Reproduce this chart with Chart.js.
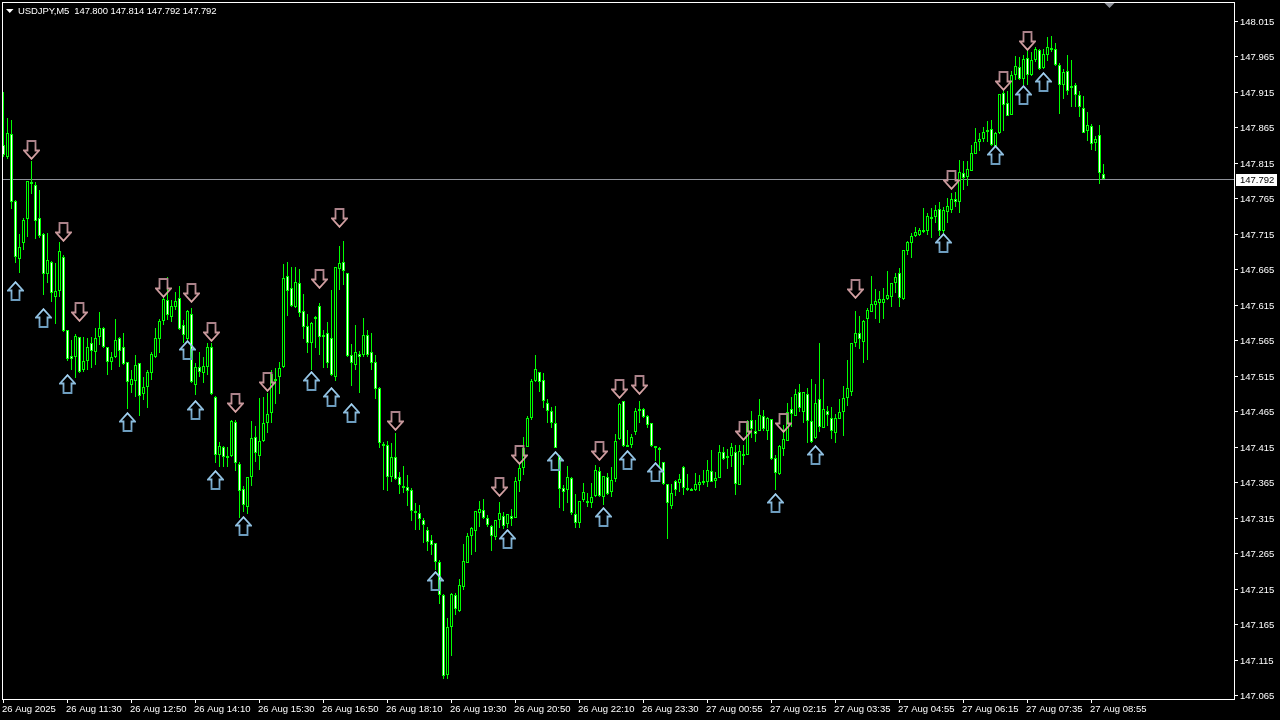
<!DOCTYPE html>
<html>
<head>
<meta charset="utf-8">
<title>USDJPY,M5</title>
<script src="https://cdn.jsdelivr.net/npm/chart.js@4/dist/chart.umd.min.js"></script>
<style>
html,body{margin:0;padding:0;background:#000;}
canvas{display:block;}
</style>
</head>
<body>
<canvas id="candleChart" width="1280" height="720"></canvas>
<script>
// USDJPY M5 prices, one entry per bar

const opens=[
147.840,147.823,147.856,147.761,147.680,147.702,147.736,147.788,147.784,147.737,
147.715,147.658,147.675,147.626,147.634,147.682,147.580,147.543,147.541,147.570,
147.523,147.536,147.561,147.549,147.570,147.582,147.556,147.534,147.541,147.568,
147.556,147.534,147.502,147.508,147.533,147.489,147.499,147.519,147.541,147.567,
147.592,147.622,147.598,147.612,147.625,147.587,147.567,147.602,147.502,147.527,
147.519,147.527,147.556,147.485,147.403,147.415,147.402,147.402,147.450,147.391,
147.355,147.330,147.372,147.429,147.402,147.423,147.448,147.463,147.510,147.513,
147.527,147.656,147.639,147.612,147.646,147.606,147.585,147.561,147.595,147.613,
147.572,147.575,147.568,147.513,147.665,147.675,147.660,147.544,147.530,147.546,
147.544,147.572,147.549,147.534,147.498,147.419,147.417,147.372,147.400,147.372,
147.360,147.358,147.354,147.325,147.322,147.312,147.298,147.284,147.279,147.253,
147.206,147.093,147.161,147.206,147.183,147.217,147.251,147.289,147.296,147.322,
147.326,147.315,147.303,147.288,147.312,147.317,147.306,147.317,147.315,147.367,
147.385,147.415,147.456,147.508,147.520,147.509,147.477,147.465,147.448,147.402,
147.357,147.354,147.371,147.320,147.308,147.340,147.338,147.336,147.345,147.381,
147.344,147.372,147.351,147.370,147.426,147.479,147.417,147.417,147.436,147.465,
147.468,147.458,147.448,147.416,147.413,147.393,147.362,147.331,147.367,147.364,
147.386,147.357,147.355,147.354,147.361,147.367,147.365,147.381,147.367,147.371,
147.408,147.402,147.402,147.408,147.361,147.405,147.403,147.453,147.437,147.437,
147.458,147.437,147.454,147.399,147.377,147.412,147.423,147.468,147.458,147.492,
147.464,147.489,147.451,147.427,147.482,147.441,147.465,147.456,147.434,147.454,
147.464,147.484,147.492,147.561,147.575,147.563,147.595,147.605,147.615,147.618,
147.618,147.623,147.626,147.646,147.660,147.623,147.691,147.702,147.712,147.713,
147.720,147.719,147.739,147.739,147.750,147.719,147.746,147.749,147.764,147.760,
147.801,147.795,147.804,147.828,147.844,147.849,147.861,147.863,147.839,147.857,
147.914,147.899,147.883,147.939,147.950,147.933,147.963,147.939,147.960,147.974,
147.949,147.967,147.977,147.976,147.953,147.925,147.945,147.923,147.925,147.911,
147.892,147.860,147.867,147.843,147.854,147.800];

const highs=[
147.915,147.878,147.875,147.763,147.715,147.737,147.790,147.818,147.788,147.777,
147.716,147.716,147.677,147.674,147.704,147.685,147.580,147.565,147.574,147.570,
147.570,147.568,147.570,147.582,147.605,147.584,147.556,147.549,147.595,147.570,
147.575,147.534,147.523,147.544,147.533,147.513,147.523,147.549,147.582,147.595,
147.626,147.654,147.622,147.633,147.642,147.594,147.608,147.611,147.533,147.549,
147.541,147.561,147.561,147.487,147.422,147.416,147.415,147.453,147.453,147.393,
147.360,147.372,147.451,147.444,147.484,147.485,147.491,147.523,147.526,147.534,
147.673,147.675,147.668,147.668,147.665,147.630,147.602,147.591,147.599,147.618,
147.580,147.591,147.636,147.668,147.698,147.705,147.660,147.560,147.587,147.550,
147.596,147.580,147.575,147.544,147.499,147.422,147.423,147.420,147.434,147.379,
147.388,147.375,147.357,147.336,147.333,147.315,147.302,147.291,147.279,147.255,
147.207,147.174,147.209,147.209,147.229,147.278,147.293,147.302,147.324,147.338,
147.341,147.319,147.305,147.312,147.337,147.323,147.320,147.327,147.372,147.392,
147.429,147.458,147.510,147.544,147.520,147.519,147.482,147.471,147.472,147.403,
147.361,147.388,147.372,147.348,147.338,147.364,147.350,147.364,147.389,147.386,
147.374,147.378,147.386,147.433,147.477,147.479,147.439,147.433,147.470,147.479,
147.470,147.460,147.448,147.416,147.415,147.394,147.362,147.362,147.368,147.377,
147.388,147.377,147.357,147.378,147.375,147.382,147.396,147.410,147.379,147.417,
147.415,147.412,147.420,147.417,147.417,147.417,147.453,147.465,147.453,147.482,
147.467,147.457,147.454,147.403,147.417,147.446,147.477,147.485,147.496,147.503,
147.492,147.498,147.510,147.503,147.561,147.510,147.472,147.471,147.461,147.482,
147.501,147.537,147.561,147.606,147.599,147.594,147.611,147.656,147.637,147.634,
147.639,147.663,147.646,147.660,147.667,147.692,147.705,147.716,147.725,147.723,
147.751,147.744,147.751,147.756,147.760,147.753,147.765,147.773,147.774,147.819,
147.818,147.818,147.840,147.864,147.857,147.866,147.874,147.875,147.858,147.912,
147.918,147.916,147.945,147.966,147.964,147.967,147.974,147.971,147.978,147.976,
147.976,147.992,147.994,147.984,147.956,147.947,147.967,147.960,147.928,147.916,
147.909,147.887,147.870,147.853,147.868,147.814];

const lows=[
147.823,147.821,147.750,147.674,147.660,147.692,147.711,147.771,147.708,147.709,
147.629,147.646,147.619,147.588,147.626,147.577,147.536,147.523,147.512,147.519,
147.520,147.523,147.526,147.530,147.558,147.554,147.516,147.523,147.540,147.527,
147.530,147.468,147.491,147.485,147.458,147.481,147.470,147.509,147.540,147.547,
147.587,147.594,147.591,147.608,147.580,147.561,147.565,147.505,147.488,147.513,
147.505,147.516,147.488,147.392,147.386,147.386,147.386,147.400,147.381,147.315,
147.323,147.320,147.360,147.393,147.382,147.422,147.434,147.448,147.475,147.489,
147.526,147.599,147.612,147.611,147.598,147.567,147.547,147.523,147.554,147.544,
147.526,147.526,147.515,147.508,147.636,147.643,147.541,147.501,147.523,147.491,
147.541,147.541,147.523,147.482,147.413,147.354,147.353,147.365,147.368,147.348,
147.350,147.331,147.310,147.298,147.298,147.279,147.268,147.262,147.241,147.193,
147.088,147.088,147.120,147.178,147.182,147.213,147.251,147.262,147.267,147.302,
147.313,147.302,147.268,147.284,147.300,147.299,147.300,147.303,147.315,147.351,
147.375,147.415,147.453,147.506,147.492,147.470,147.448,147.441,147.413,147.329,
147.324,147.336,147.319,147.300,147.300,147.337,147.330,147.329,147.344,147.344,
147.333,147.347,147.344,147.365,147.424,147.415,147.414,147.413,147.432,147.448,
147.456,147.441,147.415,147.395,147.386,147.361,147.285,147.327,147.345,147.351,
147.347,147.353,147.352,147.353,147.353,147.361,147.358,147.365,147.357,147.371,
147.396,147.384,147.386,147.347,147.361,147.389,147.403,147.427,147.422,147.437,
147.437,147.424,147.396,147.354,147.375,147.402,147.423,147.443,147.458,147.464,
147.448,147.420,147.420,147.426,147.436,147.441,147.444,147.426,147.420,147.454,
147.430,147.472,147.487,147.556,147.553,147.533,147.537,147.605,147.595,147.589,
147.595,147.622,147.612,147.632,147.612,147.622,147.685,147.681,147.711,147.712,
147.716,147.713,147.709,147.730,147.712,147.716,147.730,147.744,147.753,147.744,
147.777,147.782,147.804,147.828,147.832,147.844,147.844,147.839,147.839,147.856,
147.860,147.881,147.883,147.932,147.932,147.925,147.925,147.938,147.957,147.946,
147.947,147.959,147.971,147.952,147.884,147.905,147.911,147.894,147.894,147.880,
147.857,147.846,147.833,147.832,147.785,147.792];

const closes=[
147.826,147.857,147.760,147.682,147.697,147.735,147.790,147.785,147.733,147.712,
147.658,147.678,147.632,147.634,147.691,147.578,147.539,147.539,147.571,147.520,
147.536,147.556,147.550,147.568,147.582,147.556,147.534,147.541,147.565,147.550,
147.532,147.506,147.510,147.530,147.487,147.499,147.520,147.546,147.568,147.592,
147.623,147.601,147.613,147.620,147.581,147.572,147.606,147.506,147.527,147.520,
147.529,147.556,147.489,147.403,147.416,147.400,147.399,147.451,147.392,147.353,
147.333,147.372,147.427,147.406,147.423,147.448,147.461,147.517,147.508,147.526,
147.653,147.634,147.613,147.647,147.603,147.584,147.561,147.589,147.598,147.570,
147.570,147.533,147.516,147.668,147.674,147.663,147.543,147.533,147.549,147.541,
147.572,147.544,147.533,147.496,147.420,147.416,147.372,147.400,147.370,147.361,
147.357,147.353,147.324,147.322,147.313,147.305,147.281,147.277,147.253,147.206,
147.092,147.161,147.207,147.186,147.220,147.254,147.289,147.300,147.324,147.327,
147.315,147.305,147.289,147.312,147.322,147.303,147.320,147.313,147.367,147.385,
147.413,147.456,147.508,147.525,147.506,147.479,147.465,147.448,147.413,147.355,
147.351,147.372,147.322,147.308,147.338,147.351,147.336,147.344,147.382,147.345,
147.374,147.348,147.368,147.423,147.475,147.416,147.415,147.429,147.465,147.468,
147.457,147.446,147.416,147.413,147.410,147.362,147.336,147.350,147.354,147.370,
147.357,147.354,147.353,147.362,147.365,147.364,147.382,147.365,147.371,147.408,
147.398,147.399,147.415,147.362,147.409,147.402,147.451,147.440,147.433,147.460,
147.440,147.456,147.398,147.378,147.416,147.426,147.464,147.461,147.489,147.470,
147.492,147.451,147.422,147.477,147.443,147.468,147.460,147.437,147.456,147.464,
147.484,147.498,147.561,147.575,147.567,147.592,147.608,147.616,147.620,147.623,
147.623,147.629,147.646,147.654,147.625,147.692,147.704,147.712,147.718,147.720,
147.718,147.740,147.736,147.749,147.719,147.749,147.754,147.764,147.760,147.802,
147.794,147.806,147.829,147.844,147.849,147.859,147.859,147.840,147.857,147.912,
147.897,147.881,147.939,147.952,147.933,147.961,147.939,147.960,147.976,147.947,
147.969,147.978,147.974,147.953,147.925,147.943,147.916,147.921,147.911,147.894,
147.857,147.868,147.842,147.849,147.801,147.792];

// indicator arrows: bar index and price of the arrow centre
const downBars=[7,15,19,40,47,52,58,66,79,84,98,124,129,149,154,159,185,195,213,237,250,256];
const downPrices=[147.833,147.718,147.605,147.639,147.632,147.577,147.477,147.506,147.651,147.737,147.451,147.358,147.403,147.409,147.496,147.502,147.437,147.448,147.637,147.791,147.930,147.987];
const upBars=[3,10,16,31,46,48,53,60,77,82,87,108,126,138,150,156,163,193,203,235,248,255,260];
const upPrices=[147.634,147.596,147.503,147.450,147.551,147.467,147.368,147.303,147.508,147.485,147.463,147.226,147.285,147.395,147.316,147.396,147.379,147.336,147.403,147.702,147.826,147.911,147.929];

// axes
const priceTicks=[148.015,147.965,147.915,147.865,147.815,147.765,147.715,147.665,147.615,147.565,147.515,147.465,147.415,147.365,147.315,147.265,147.215,147.165,147.115,147.065];
const timeTickBars=[0,16,32,48,64,80,96,112,128,144,160,176,192,208,224,240,256,272];
const timeTickLabels=['26 Aug 2025','26 Aug 11:30','26 Aug 12:50','26 Aug 14:10','26 Aug 15:30','26 Aug 16:50','26 Aug 18:10','26 Aug 19:30','26 Aug 20:50','26 Aug 22:10','26 Aug 23:30','27 Aug 00:55','27 Aug 02:15','27 Aug 03:35','27 Aug 04:55','27 Aug 06:15','27 Aug 07:35','27 Aug 08:55'];

const symbol='USDJPY,M5';
const lastPrice=147.792;

const FONT='"Liberation Sans"';
const GREEN='#00ff00';
const GREY='#8e9199';

const bars=opens.map((o,i)=>i);
const isBear=opens.map((o,i)=>closes[i]<o);

// hollow arrow sprite, drawn pointing down and flipped for the up ones
function makeArrow(up,colorA,colorB){
const c=document.createElement('canvas');
c.width=17;
c.height=20;
const g=c.getContext('2d');
if(up){
g.translate(0,20);
g.scale(1,-1);
}
const grad=g.createLinearGradient(0,0,0,20);
grad.addColorStop(0,colorA);
grad.addColorStop(1,colorB);
g.strokeStyle=grad;
g.lineWidth=1.8;
g.beginPath();
g.moveTo(4.5,1);
g.lineTo(12.5,1);
g.lineTo(12.5,10.5);
g.lineTo(16,10.5);
g.lineTo(8.5,18.8);
g.lineTo(1,10.5);
g.lineTo(4.5,10.5);
g.closePath();
g.stroke();
return c;
}

// keep prices on whole pixel rows so the candles stay sharp
const snapRows={
id:'snapRows',
afterLayout(chart){
const s=chart.scales.y;
if(s._snapped)return;
const orig=s.getPixelForValue.bind(s);
s.getPixelForValue=v=>Math.round(orig(v));
s._snapped=true;
}
};

const priceLine={
id:'priceLine',
beforeDatasetsDraw(chart){
const ctx=chart.ctx;
const y=chart.scales.y.getPixelForValue(lastPrice)+0.5;
ctx.save();
ctx.strokeStyle=GREY;
ctx.lineWidth=1;
ctx.beginPath();
ctx.moveTo(chart.chartArea.left,y);
ctx.lineTo(chart.chartArea.right,y);
ctx.stroke();
ctx.restore();
}
};

const frame={
id:'frame',
afterDraw(chart){
const ctx=chart.ctx;
ctx.save();
ctx.strokeStyle='#fff';
ctx.lineWidth=1;
ctx.strokeRect(2.5,2.5,1232,697);

// chart shift marker
ctx.fillStyle=GREY;
ctx.beginPath();
ctx.moveTo(1104.5,3);
ctx.lineTo(1114.5,3);
ctx.lineTo(1109.5,8);
ctx.closePath();
ctx.fill();

// title row
ctx.fillStyle='#fff';
ctx.beginPath();
ctx.moveTo(6,9);
ctx.lineTo(13.5,9);
ctx.lineTo(9.75,13);
ctx.closePath();
ctx.fill();
ctx.font='9.5px '+FONT;
ctx.textBaseline='alphabetic';
ctx.textAlign='left';
const f=v=>v.toFixed(3);
const n=opens.length-1;
ctx.letterSpacing='-0.1px';
ctx.fillText(symbol+'  '+f(opens[n])+' '+f(highs[n])+' '+f(lows[n])+' '+f(closes[n]),18,14);
ctx.letterSpacing='0px';

// last price tag
const y=chart.scales.y.getPixelForValue(lastPrice);
ctx.fillStyle='#fff';
ctx.fillRect(1236,y-5,41,12);
ctx.fillStyle='#000';
ctx.textBaseline='middle';
ctx.fillText(f(lastPrice),1240,y+1);
ctx.restore();
}
};

// the scale adds room for half a label by default, the axes here sit exactly on the frame
function noPadding(s){
s.paddingLeft=0;
s.paddingRight=0;
s.paddingTop=0;
s.paddingBottom=0;
}

const candleChart=document.getElementById('candleChart');

new Chart(candleChart,{
type:'bar',
data:{
datasets:[
{
label:'Arrows down',
type:'scatter',
order:1,
data:downBars.map((b,i)=>({x:b,y:downPrices[i]})),
pointStyle:makeArrow(false,'#a88088','#e0aaaa')
},
{
label:'Arrows up',
type:'scatter',
order:1,
data:upBars.map((b,i)=>({x:b,y:upPrices[i]})),
pointStyle:makeArrow(true,'#6a9abc','#a8d8f8')
},
{
label:'Body',
order:2,
stack:'candle',
data:bars.map(i=>({x:i,y:[opens[i],closes[i]]})),
barThickness:3,
backgroundColor:bars.map(i=>isBear[i]?'#fff':'#000'),
borderColor:GREEN,
borderWidth:1,
borderSkipped:false,
inflateAmount:0
},
{
label:'Wick',
order:3,
stack:'candle',
data:bars.map(i=>({x:i,y:[lows[i],highs[i]]})),
barThickness:1,
backgroundColor:GREEN,
borderWidth:0,
inflateAmount:0
}
]
},
options:{
responsive:false,
animation:false,
events:[],
layout:{autoPadding:false,padding:{left:3,top:3,right:0,bottom:0}},
plugins:{legend:{display:false},tooltip:{enabled:false}},
scales:{
x:{
type:'linear',
offset:false,
min:-0.125,
max:307.875,
afterFit(s){s.height=21;noPadding(s);},
afterBuildTicks(s){s.ticks=timeTickBars.map(v=>({value:v}));},
grid:{offset:false,drawOnChartArea:false,tickColor:'#fff',tickLength:4},
border:{display:false},
ticks:{
color:'#fff',
font:{family:FONT,size:9.5},
autoSkip:false,
maxRotation:0,
align:'start',
labelOffset:-1.5,
padding:1,
callback:(v,i)=>timeTickLabels[i]
}
},
y:{
position:'right',
stacked:false,
min:147.05943,
max:148.04037,
afterFit(s){s.width=45;noPadding(s);},
afterBuildTicks(s){s.ticks=priceTicks.map(v=>({value:v}));},
grid:{drawOnChartArea:false,tickColor:'#fff',tickLength:3},
border:{display:false},
ticks:{
color:'#fff',
font:{family:FONT,size:9.5},
padding:2,
labelOffset:1,
callback:v=>v.toFixed(3)
}
}
}
},
plugins:[snapRows,priceLine,frame]
});
</script>
</body>
</html>
